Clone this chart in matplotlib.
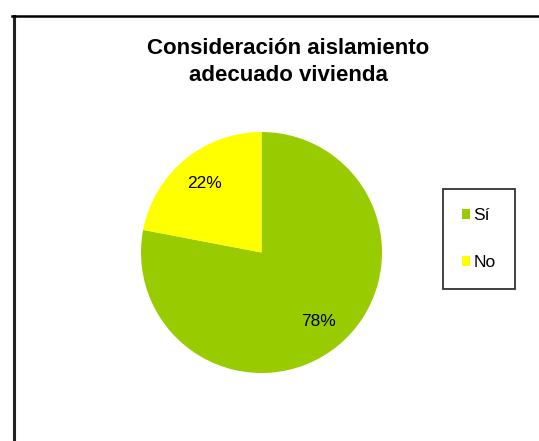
import matplotlib
matplotlib.use("Agg")
import matplotlib.pyplot as plt
from matplotlib.lines import Line2D

plt.rcParams['font.family'] = ['Liberation Sans', 'DejaVu Sans']

# Data
categories = ["Sí", "No"]
values = [78, 22]
colors = ["#99CC00", "#FFFF00"]
title = "Consideración aislamiento\nadecuado vivienda"

W, H = 539, 441
fig = plt.figure(figsize=(W / 100, H / 100), dpi=100)
fig.patch.set_facecolor("white")

# Chart area border (left and top edges)
fig.add_artist(Line2D([13.5 / W, 13.5 / W], [0, 1 - 16 / H], color="#222222", lw=2.2))
fig.add_artist(Line2D([12.5 / W, 1], [1 - 16 / H, 1 - 16 / H], color="black", lw=1.8))

# Pie axes placed so the pie is centred at (261.5, 252.5) px with radius ~120.5 px
cx, cy, r = 261.5, 252.5, 120.5
ax = fig.add_axes([(cx - r) / W, (H - cy - r) / H, 2 * r / W, 2 * r / H])
wedges, texts, autotexts = ax.pie(
    values, colors=colors, startangle=90, counterclock=False,
    autopct=lambda p: f"{p:.0f}%", pctdistance=0.74,
    textprops=dict(fontsize=12.5, color="black"),
    wedgeprops=dict(linewidth=0),
)
ax.set_xlim(-1, 1)
ax.set_ylim(-1, 1)
ax.set_aspect("equal")
ax.axis("off")

# Title
fig.text(288.5 / W, 1 - 62 / H, title, ha="center", va="center",
         fontsize=16, fontweight="bold", linespacing=1.32)

# Legend
leg = fig.legend(wedges, categories, loc="upper left",
                 bbox_to_anchor=(443 / W, 1 - 189 / H), bbox_transform=fig.transFigure,
                 fontsize=12.5, frameon=True, fancybox=False,
                 borderpad=1.1, labelspacing=1.85, handlelength=0.46,
                 handleheight=0.46, handletextpad=0.2, borderaxespad=0)
leg.get_frame().set_edgecolor("black")
leg.get_frame().set_linewidth(1.3)

fig.savefig("out.png", dpi=100, facecolor="white")
